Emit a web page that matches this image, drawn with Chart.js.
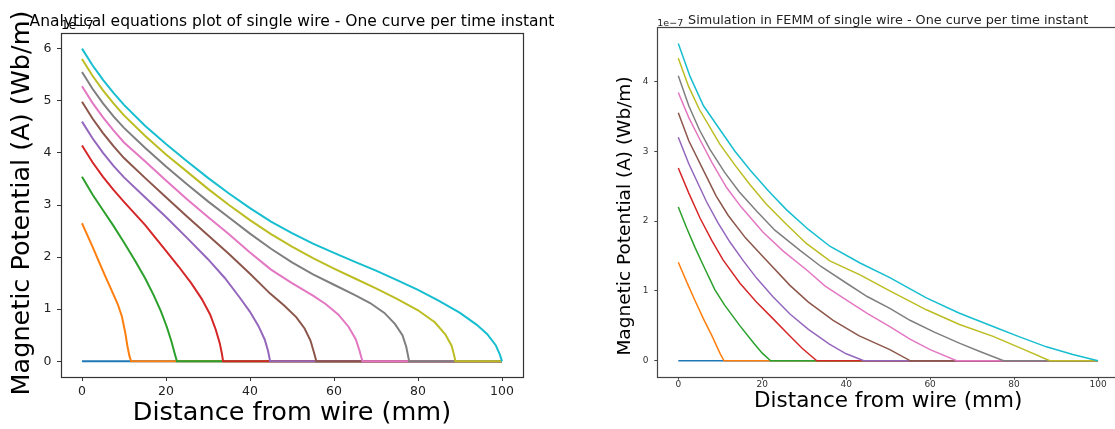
<!DOCTYPE html>
<html>
<head>
<meta charset="utf-8">
<script src="https://cdn.jsdelivr.net/npm/chart.js@4.4.1/dist/chart.umd.min.js"></script>
<style>
html,body{margin:0;padding:0;background:#fff;overflow:hidden}
#wrap{position:relative;width:1115px;height:429px;overflow:hidden;background:#fff}
#analytic{position:absolute;left:0;top:0;width:557px;height:429px}
#femm{position:absolute;left:557px;top:0;width:580px;height:429px;filter:blur(0.35px)}
</style>
</head>
<body>
<div id="wrap">
<canvas id="analytic" width="557" height="429"></canvas>
<canvas id="femm" width="580" height="429"></canvas>
</div>
<script>
// vector potential in units of 1e-7 Wb/m, one curve per time instant: [distance mm, A]
const anaBlue = [[0,0],[100,0]]
const anaOrange = [[0,2.65],[1,2.47],[2.5,2.2],[4,1.92],[5.5,1.64],[7,1.37],[8.5,1.1],[9.5,0.86],[10.3,0.55],[10.8,0.3],[11.3,0.1],[11.7,0],[100,0]]
const anaGreen = [[0,3.54],[2.5,3.2],[5,2.9],[7.5,2.6],[10,2.28],[12.5,1.95],[15,1.6],[17,1.28],[18.8,0.96],[20.2,0.66],[21.3,0.38],[22.1,0.14],[22.6,0],[100,0]]
const anaRed = [[0,4.14],[2.5,3.82],[5,3.54],[7.5,3.29],[10,3.06],[15,2.62],[20,2.12],[23,1.82],[26,1.5],[28.5,1.2],[30.5,0.9],[31.8,0.62],[32.8,0.35],[33.3,0.15],[33.6,0],[100,0]]
const anaPurple = [[0,4.6],[2.5,4.28],[5,4.0],[7.5,3.75],[10,3.53],[15,3.15],[20,2.77],[25,2.37],[30,1.96],[34,1.6],[37.5,1.23],[40,0.95],[42,0.68],[43.5,0.42],[44.3,0.2],[44.8,0],[100,0]]
const anaBrown = [[0,4.98],[2.5,4.66],[5,4.38],[7.5,4.13],[10,3.9],[15,3.52],[20,3.15],[25,2.78],[30,2.42],[35,2.06],[40,1.68],[44.8,1.3],[48,1.08],[51,0.85],[53,0.63],[54.4,0.4],[55.2,0.18],[55.8,0],[100,0]]
const anaPink = [[0,5.28],[2.5,4.96],[5,4.68],[7.5,4.43],[10,4.2],[15,3.84],[20,3.47],[25,3.11],[30,2.77],[35,2.44],[40,2.09],[45,1.76],[50,1.5],[55,1.26],[58,1.1],[61,0.9],[63.5,0.66],[65.2,0.42],[66.1,0.2],[66.5,0.08],[66.8,0],[100,0]]
const anaGray = [[0,5.55],[2.5,5.23],[5,4.95],[7.5,4.7],[10,4.48],[15,4.1],[20,3.74],[25,3.4],[30,3.07],[35,2.76],[40,2.45],[45,2.16],[50,1.9],[55,1.67],[60,1.47],[65,1.27],[68.6,1.12],[72,0.93],[74.5,0.72],[76.3,0.5],[77.2,0.28],[77.6,0.12],[77.9,0],[100,0]]
const anaOlive = [[0,5.8],[2.5,5.48],[5,5.2],[7.5,4.95],[10,4.72],[15,4.33],[20,3.97],[25,3.64],[30,3.31],[35,3.0],[40,2.71],[45,2.44],[50,2.2],[55,1.98],[60,1.78],[65,1.59],[70,1.4],[75,1.2],[80,0.98],[84,0.75],[86.5,0.52],[88,0.3],[88.6,0.12],[88.9,0],[100,0]]
const anaCyan = [[0,6.0],[2.5,5.68],[5,5.4],[7.5,5.15],[10,4.92],[15,4.52],[20,4.17],[25,3.84],[30,3.52],[35,3.22],[40,2.94],[45,2.68],[50,2.46],[55,2.26],[60,2.08],[65,1.91],[70,1.74],[75,1.56],[80,1.37],[85,1.16],[90,0.93],[94,0.7],[96.5,0.52],[98.5,0.31],[99.5,0.13],[100,0]]

// FEMM results, same units
const femBlue = [[0,0],[100,0]]
const femOrange = [[0,1.41],[2,1.13],[4,0.86],[6,0.6],[8,0.36],[10,0.1],[10.9,0],[100,0]]
const femGreen = [[0,2.2],[2,1.9],[4,1.62],[6,1.36],[8.7,1.02],[11,0.8],[14.7,0.5],[18,0.25],[20,0.11],[22,0],[100,0]]
const femRed = [[0,2.76],[2.5,2.4],[5.2,2.04],[8,1.72],[10.7,1.44],[14.7,1.11],[18.5,0.85],[22.6,0.6],[26,0.39],[29.5,0.18],[33,0],[100,0]]
const femPurple = [[0,3.2],[2.5,2.82],[6.7,2.28],[9.5,1.97],[12.3,1.7],[15.5,1.43],[18.7,1.18],[22.5,0.92],[26.6,0.67],[31,0.45],[36,0.24],[40,0.1],[44.2,0],[100,0]]
const femBrown = [[0,3.55],[2.5,3.15],[6.7,2.64],[9,2.36],[11.9,2.08],[16,1.76],[20.2,1.49],[26.6,1.08],[31,0.84],[36.9,0.58],[43,0.36],[50.4,0.16],[55.3,0],[100,0]]
const femPink = [[0,3.84],[2.5,3.48],[5.2,3.16],[8,2.84],[11.5,2.48],[15,2.2],[20.2,1.84],[25,1.57],[30.6,1.3],[35,1.07],[40.1,0.87],[45,0.68],[50.4,0.49],[55.2,0.31],[60,0.16],[66.3,0],[100,0]]
const femGray = [[0,4.08],[2.5,3.65],[5,3.31],[7.5,3.03],[11,2.7],[14.5,2.42],[18.7,2.14],[23,1.87],[29,1.58],[34,1.35],[40.1,1.11],[45,0.92],[50.4,0.75],[55.2,0.58],[61,0.41],[67.1,0.25],[72,0.13],[77.5,0],[100,0]]
const femOlive = [[0,4.33],[2.5,3.92],[5,3.6],[9.9,3.1],[13.5,2.8],[17.1,2.52],[21,2.24],[25.8,1.95],[30.5,1.68],[36.1,1.43],[43.3,1.23],[50.4,1.0],[59.1,0.73],[67,0.52],[75,0.35],[82,0.17],[88.5,0],[100,0]]
const femCyan = [[0,4.54],[2.8,4.07],[6,3.65],[9.9,3.31],[13.5,3.0],[17.1,2.73],[21.5,2.43],[25.8,2.16],[31,1.88],[36.1,1.64],[43.3,1.4],[50.4,1.19],[59.1,0.9],[67,0.68],[75,0.49],[81,0.35],[87.7,0.2],[94,0.09],[100,0]]

const xTicks = [0,20,40,60,80,100]
const anaTicks = [0,1,2,3,4,5,6]
const femTicks = [0,1,2,3,4]

const tab10 = ["#1f77b4","#ff7f0e","#2ca02c","#d62728","#9467bd","#8c564b","#e377c2","#7f7f7f","#bcbd22","#17becf"]
const FONT = "'DejaVu Sans', 'Liberation Sans', sans-serif"
const Y_LABEL = "Magnetic Potential (A) (Wb/m)"

function toSets(curves, width){
  return curves.map((c,i)=>({
    data: c.map(p=>({x:p[0],y:p[1]})),
    borderColor: tab10[i],
    backgroundColor: tab10[i],
    borderWidth: width,
    pointRadius: 0,
    tension: 0,
    fill: false,
    // later time instants drawn on top
    order: curves.length - 1 - i
  }))
}

// plot title, y label, the 1e-7 multiplier and the closed box round the plot area
const decor = {
  id: "decor",
  afterDraw(chart, args, o){
    const {ctx, chartArea:a} = chart
    ctx.save()
    ctx.strokeStyle = o.frame
    ctx.lineWidth = o.frameWidth
    ctx.strokeRect(Math.round(a.left)+0.5, Math.round(a.top)+0.5, Math.round(a.right-a.left), Math.round(a.bottom-a.top))
    ctx.fillStyle = o.color
    ctx.textBaseline = "alphabetic"
    ctx.textAlign = "left"
    ctx.font = o.offsetFont
    ctx.fillText("1e\u22127", a.left, o.offsetY)
    ctx.textAlign = "center"
    ctx.font = o.titleFont
    ctx.fillText(o.title, (a.left+a.right)/2, o.titleY)
    ctx.fillStyle = "#000"
    ctx.font = o.yLabelFont
    ctx.textBaseline = "middle"
    ctx.translate(o.yLabelX, o.yLabelY)
    ctx.rotate(-Math.PI/2)
    ctx.fillText(Y_LABEL, 0, 0)
    ctx.restore()
  }
}

function makeChart(id, curves, yTicks, o){
  return new Chart(document.getElementById(id), {
    type: "line",
    data: {datasets: toSets(curves, o.lineWidth)},
    plugins: [decor],
    options: {
      responsive: false,
      animation: false,
      devicePixelRatio: 1,
      layout: {padding: o.padding},
      plugins: {
        legend: {display:false},
        tooltip: {enabled:false},
        decor: o.decor
      },
      scales: {
        x: {
          type: "linear",
          min: -5,
          max: 105,
          afterBuildTicks: s => { s.ticks = xTicks.map(v=>({value:v})) },
          afterFit: s => { s.height = o.xHeight },
          ticks: {font:{family:FONT,size:o.tickSize}, color:o.tickColor, padding:o.xTickPad, maxRotation:0, autoSkip:false},
          grid: {drawOnChartArea:false, drawTicks:true, tickLength:o.tickLen, color:o.decor.frame, lineWidth:1},
          border: {display:false},
          title: {display:true, text:"Distance from wire (mm)", color:"#000",
            font:{family:FONT,size:o.xTitleSize}, padding:{top:0,bottom:o.xTitlePad}}
        },
        y: {
          type: "linear",
          min: o.yMin,
          max: o.yMax,
          afterBuildTicks: s => { s.ticks = yTicks.map(v=>({value:v})) },
          afterFit: s => { s.width = o.yWidth },
          ticks: {font:{family:FONT,size:o.tickSize}, color:o.tickColor, padding:o.yTickPad},
          grid: {drawOnChartArea:false, drawTicks:true, tickLength:o.tickLen, color:o.decor.frame, lineWidth:1},
          border: {display:false},
          title: {display:false}
        }
      }
    }
  })
}

makeChart("analytic",
  [anaBlue,anaOrange,anaGreen,anaRed,anaPurple,anaBrown,anaPink,anaGray,anaOlive,anaCyan],
  anaTicks, {
    lineWidth: 2,
    padding: {top:33, right:34, bottom:0, left:0},
    yMin: -0.3, yMax: 6.3,
    xHeight: 52, yWidth: 61,
    tickSize: 12.5, tickColor: "#222", tickLen: 4,
    xTickPad: 3, yTickPad: 5.5,
    xTitleSize: 25.5, xTitlePad: 0,
    decor: {frame:"#333", frameWidth:1.2, color:"#000",
      title:"Analytical equations plot of single wire - One curve per time instant",
      titleFont:"15.5px " + FONT, titleY:26,
      offsetFont:"12px " + FONT, offsetY:29,
      yLabelFont:"25.5px " + FONT, yLabelX:22.5, yLabelY:203}
  })

makeChart("femm",
  [femBlue,femOrange,femGreen,femRed,femPurple,femBrown,femPink,femGray,femOlive,femCyan],
  femTicks, {
    lineWidth: 1.5,
    padding: {top:27, right:18, bottom:0, left:55},
    yMin: -0.2275, yMax: 4.7775,
    xHeight: 52.3, yWidth: 45.3,
    tickSize: 9, tickColor: "#333", tickLen: 3,
    xTickPad: 0, yTickPad: 5.8,
    xTitleSize: 21.5, xTitlePad: 15,
    decor: {frame:"#444", frameWidth:1.2, color:"#222",
      title:"Simulation in FEMM of single wire - One curve per time instant",
      titleFont:"12.8px " + FONT, titleY:24,
      offsetFont:"9.5px " + FONT, offsetY:26,
      yLabelFont:"18.5px " + FONT, yLabelX:68, yLabelY:216}
  })
</script>
</body>
</html>
